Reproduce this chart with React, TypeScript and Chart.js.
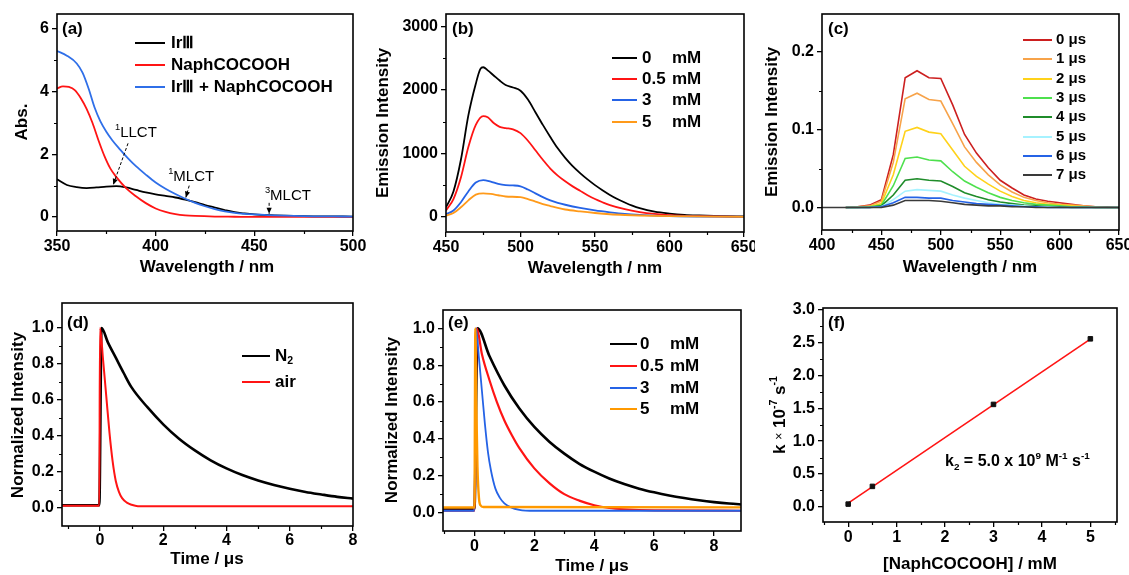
import React, { useEffect, useRef } from 'react';
import { Chart, registerables } from 'chart.js';
Chart.register(...registerables);

const FONT = 'Arial, "Liberation Sans", Helvetica, sans-serif';

// ---------------- (a) absorption ----------------
const aX_Ir = [350,355,360,365,370,375,380,385,390,395,400,405,410,415,420,425,430,435,440,445,450,460,470,480,490,500];
const aY_Ir = [1.2,1.02,0.95,0.92,0.94,0.97,0.98,0.94,0.86,0.78,0.72,0.67,0.62,0.55,0.47,0.38,0.3,0.22,0.15,0.11,0.08,0.05,0.03,0.02,0.015,0.01];
const aX_Naph = [350,353,356,359,362,365,368,371,374,377,380,385,390,395,400,405,410,415,420,430,440,450,475,500];
const aY_Naph = [4.1,4.17,4.15,4.05,3.8,3.45,3.0,2.45,1.95,1.55,1.28,0.92,0.66,0.44,0.27,0.16,0.09,0.05,0.03,0.01,0.005,0,0,0];
const aX_Mix = [350,355,360,363,366,369,372,375,378,382,386,390,395,400,405,410,415,420,425,430,435,440,445,450,455,460,470,480,490,500];
const aY_Mix = [5.3,5.15,4.9,4.6,4.1,3.5,3.05,2.72,2.45,2.15,1.87,1.62,1.35,1.1,0.9,0.73,0.58,0.45,0.34,0.25,0.18,0.13,0.1,0.08,0.065,0.05,0.03,0.02,0.015,0.01];
const aLabels = ['IrⅢ', 'NaphCOCOOH', 'IrⅢ + NaphCOCOOH'];
const aXTicks = [350, 400, 450, 500];
const aYTicks = [0, 2, 4, 6];
const aXMinor = [375, 425, 475];
const aYMinor = [1, 3, 5];

// ---------------- (b) emission quenching ----------------
const bX0 = [450,455,460,465,470,473,475,478,482,486,490,495,500,505,510,515,520,525,530,535,540,545,550,555,560,565,570,575,580,590,600,610,620,635,650];
const bY0 = [150,400,900,1600,2100,2330,2360,2310,2230,2150,2080,2040,1990,1850,1650,1450,1260,1080,930,800,690,590,500,420,345,280,225,175,135,80,50,30,20,10,5];
const bX05 = [450,455,460,465,470,475,478,482,486,490,495,500,505,510,515,520,525,530,535,540,545,550,555,560,570,580,590,600,620,650];
const bY05 = [100,280,620,1100,1450,1590,1570,1480,1420,1400,1380,1320,1200,1050,900,760,650,560,480,410,340,280,230,185,120,75,45,25,10,0];
const bX3 = [450,455,460,465,470,475,480,485,490,495,500,505,510,515,520,525,530,540,550,560,570,580,600,650];
const bY3 = [40,100,230,400,540,580,555,520,500,495,480,430,370,310,260,220,190,140,100,70,45,30,12,0];
const bX5 = [450,455,460,465,470,475,480,485,490,500,505,510,515,520,525,530,540,550,560,570,580,600,650];
const bY5 = [20,60,150,260,350,370,360,340,320,310,280,240,200,170,140,115,85,60,40,28,20,10,0];
const bConc = ['0', '0.5', '3', '5'];
const bXTicks = [450, 500, 550, 600, 650];
const bYTicks = [0, 1000, 2000, 3000];
const bXMinor = [475, 525, 575, 625];
const bYMinor = [500, 1500, 2500];

// ---------------- (c) time-resolved emission ----------------
const cX = [400,410,420,430,440,450,460,470,480,490,500,510,520,530,540,550,560,570,580,590,600,610,620,630,640,650];
const c0 = [null,null,0,0.001,0.003,0.01,0.068,0.167,0.176,0.167,0.166,0.132,0.094,0.07,0.051,0.035,0.025,0.016,0.011,0.008,0.006,0.004,0.002,0.001,0.001,0];
const c1 = [null,null,0,0.001,0.002,0.008,0.058,0.14,0.147,0.139,0.137,0.108,0.078,0.058,0.042,0.029,0.02,0.013,0.009,0.006,0.004,0.003,0.002,0.001,0,0];
const c2 = [null,null,0,0,0.001,0.005,0.042,0.098,0.103,0.097,0.095,0.074,0.053,0.04,0.03,0.021,0.014,0.009,0.006,0.004,0.003,0.002,0.001,0,0,0];
const c3 = [null,null,0,0,0.001,0.003,0.028,0.063,0.065,0.061,0.06,0.046,0.034,0.026,0.019,0.013,0.009,0.006,0.004,0.003,0.002,0.001,0.001,0,0,0];
const c4 = [null,null,0,0,0,0.002,0.016,0.035,0.037,0.035,0.034,0.027,0.019,0.014,0.01,0.007,0.005,0.003,0.002,0.001,0.001,0,0,0,0,0];
const c5 = [null,null,0,0,0,0.001,0.01,0.021,0.023,0.022,0.021,0.016,0.012,0.009,0.006,0.004,0.003,0.002,0.001,0.001,0,0,0,0,0,0];
const c6 = [null,null,0,0,0,0.001,0.006,0.013,0.013,0.012,0.012,0.009,0.007,0.005,0.004,0.003,0.002,0.001,0.001,0,0,0,0,0,0,0];
const c7 = [0,0,0,0,0,0,0.003,0.009,0.009,0.009,0.008,0.006,0.004,0.003,0.002,0.002,0.001,0.001,0,0,0,0,0,0,0,0];
const cLabels = ['0 μs', '1 μs', '2 μs', '3 μs', '4 μs', '5 μs', '6 μs', '7 μs'];
const cColors = ['#cc1f1f', '#f7a34a', '#ffd21a', '#4ee04e', '#1f8c2a', '#a6f2ff', '#2563e6', '#3a3a3a'];
const cXTicks = [400, 450, 500, 550, 600, 650];
const cYTicks = [0, 0.1, 0.2];
const cXMinor = [425, 475, 525, 575, 625];
const cYMinor = [0.05, 0.15];

// ---------------- (d) decay N2 / air ----------------
const dX_N2 = [-1.2,-0.5,-0.02,0.05,0.25,0.5,0.75,1,1.5,2,2.5,3,3.5,4,4.5,5,5.5,6,6.5,7,7.5,8];
const dY_N2 = [0.015,0.015,0.015,1.0,0.92,0.835,0.75,0.67,0.56,0.465,0.385,0.32,0.265,0.22,0.183,0.153,0.128,0.107,0.089,0.075,0.062,0.052];
const dX_air = [-1.2,-0.02,0.0,0.1,0.2,0.3,0.4,0.5,0.6,0.7,0.85,1.0,1.2,8];
const dY_air = [0.012,0.012,1.0,0.82,0.62,0.42,0.26,0.15,0.09,0.055,0.03,0.018,0.01,0.01];
const dXTicks = [0, 2, 4, 6, 8];
const dYTicks = [0, 0.2, 0.4, 0.6, 0.8, 1.0];
const dXMinor = [-1, 1, 3, 5, 7];
const dYMinor = [0.1, 0.3, 0.5, 0.7, 0.9];

// ---------------- (e) decay vs quencher ----------------
const eX0 = [-1.1,0.0,0.1,0.5,1,1.5,2,2.5,3,3.5,4,4.5,5,5.5,6,6.5,7,7.5,8,8.5,9];
const eY0 = [0.02,0.02,1.0,0.85,0.69,0.565,0.465,0.385,0.32,0.265,0.222,0.185,0.155,0.13,0.11,0.093,0.079,0.067,0.057,0.049,0.043];
const eX05 = [-1.1,0.0,0.08,0.25,0.5,0.75,1,1.25,1.5,2,2.5,3,3.5,4,4.5,5,6,9];
const eY05 = [0.01,0.01,1.0,0.86,0.72,0.6,0.5,0.42,0.35,0.24,0.16,0.1,0.065,0.04,0.025,0.018,0.012,0.01];
const eX3 = [-1.1,0.0,0.05,0.15,0.25,0.35,0.45,0.55,0.7,0.85,1.0,1.2,1.5,2,9];
const eY3 = [0.01,0.01,1.0,0.84,0.66,0.48,0.33,0.23,0.13,0.08,0.05,0.03,0.015,0.01,0.01];
const eX5 = [-1.1,0.0,0.03,0.06,0.1,0.15,0.2,0.3,9];
const eY5 = [0.028,0.028,1.0,0.6,0.25,0.08,0.04,0.03,0.028];
const eConc = ['0', '0.5', '3', '5'];
const eXTicks = [0, 2, 4, 6, 8];
const eYTicks = [0, 0.2, 0.4, 0.6, 0.8, 1.0];
const eXMinor = [-1, 1, 3, 5, 7, 9];
const eYMinor = [0.1, 0.3, 0.5, 0.7, 0.9];

// ---------------- (f) Stern-Volmer ----------------
const fConc = [0, 0.5, 3, 5];
const fRate = [0.04, 0.31, 1.56, 2.56];
const fFitX = [0, 5];
const fFitY = [0.055, 2.555];
const fXTicks = [0, 1, 2, 3, 4, 5];
const fYTicks = [0, 0.5, 1.0, 1.5, 2.0, 2.5, 3.0];
const fXMinor = [-0.5, 0.5, 1.5, 2.5, 3.5, 4.5, 5.5];
const fYMinor = [0.25, 0.75, 1.25, 1.75, 2.25, 2.75];

// ---------------- helpers ----------------
type Seg = { t: string; sup?: boolean; sub?: boolean; small?: boolean; normal?: boolean };
type TextItem = { segs: Seg[]; x: number; y: number; size: number; align?: 'left' | 'center'; rotate?: boolean; data?: boolean; normal?: boolean };
type Arrow = { x1: number; y1: number; x2: number; y2: number };
type LegendSpec = { x1: number; x2: number; textX: number; unitX?: number; unit?: string; rows: number[]; size: number; lw: number; items: { color: string; segs: Seg[] }[] };
type Deco = { xMinor: number[]; yMinor: number[]; texts: TextItem[]; arrows?: Arrow[]; legend?: LegendSpec };
type AxisSpec = { min: number; max: number; ticks: number[]; dec: number; pad: number };
type PanelSpec = {
  left: number; top: number; width: number; height: number;
  plot: { left: number; top: number; right: number; bottom: number };
  x: AxisSpec; y: AxisSpec; datasets: any[]; deco: Deco;
};

const T = (t: string): Seg[] => [{ t }];
const pts = (xs: number[], ys: (number | null)[]) => xs.map((x, i) => ({ x, y: ys[i] }));

function segStyle(s: Seg, size: number, baseNormal?: boolean) {
  const sz = s.sup || s.sub ? size * 0.62 : s.small ? size * 0.72 : size;
  const w = s.normal || baseNormal ? 'normal' : 'bold';
  return { font: `${w} ${sz}px ${FONT}`, dy: s.sup ? -size * 0.34 : s.sub ? size * 0.3 : 0 };
}

function drawRich(ctx: CanvasRenderingContext2D, segs: Seg[], x: number, y: number, size: number, align: 'left' | 'center', rotate?: boolean, baseNormal?: boolean) {
  ctx.save();
  ctx.translate(x, y);
  if (rotate) ctx.rotate(-Math.PI / 2);
  const widths: number[] = [];
  let total = 0;
  for (const s of segs) {
    ctx.font = segStyle(s, size, baseNormal).font;
    const w = ctx.measureText(s.t).width;
    widths.push(w);
    total += w;
  }
  let cx = align === 'left' ? 0 : -total / 2;
  ctx.textBaseline = 'middle';
  ctx.textAlign = 'left';
  ctx.fillStyle = '#000';
  segs.forEach((s, i) => {
    const st = segStyle(s, size, baseNormal);
    ctx.font = st.font;
    ctx.fillText(s.t, cx, st.dy);
    cx += widths[i];
  });
  ctx.restore();
}

function makeDeco(deco: Deco) {
  return {
    id: 'deco',
    afterDraw(chart: any) {
      const { ctx, chartArea: ca, scales } = chart;
      const xs = scales.x, ys = scales.y;
      ctx.save();
      ctx.strokeStyle = '#000';
      ctx.fillStyle = '#000';
      ctx.lineWidth = 1.2;
      ctx.beginPath();
      for (const v of deco.xMinor) {
        const px = Math.round(xs.getPixelForValue(v)) + 0.5;
        if (px < ca.left - 1 || px > ca.right + 1) continue;
        ctx.moveTo(px, ca.bottom);
        ctx.lineTo(px, ca.bottom + 3);
      }
      for (const v of deco.yMinor) {
        const py = Math.round(ys.getPixelForValue(v)) + 0.5;
        if (py < ca.top - 1 || py > ca.bottom + 1) continue;
        ctx.moveTo(ca.left, py);
        ctx.lineTo(ca.left - 3, py);
      }
      ctx.stroke();
      ctx.lineWidth = 1.6;
      ctx.strokeRect(ca.left, ca.top, ca.right - ca.left, ca.bottom - ca.top);

      // arrows (data coordinates)
      for (const a of deco.arrows || []) {
        const x1 = xs.getPixelForValue(a.x1), y1 = ys.getPixelForValue(a.y1);
        const x2 = xs.getPixelForValue(a.x2), y2 = ys.getPixelForValue(a.y2);
        ctx.lineWidth = 1;
        ctx.setLineDash([3, 2]);
        ctx.beginPath();
        ctx.moveTo(x1, y1);
        ctx.lineTo(x2, y2);
        ctx.stroke();
        ctx.setLineDash([]);
        const ang = Math.atan2(y2 - y1, x2 - x1);
        const L = 6, W = 2.6;
        ctx.beginPath();
        ctx.moveTo(x2, y2);
        ctx.lineTo(x2 - L * Math.cos(ang) + W * Math.sin(ang), y2 - L * Math.sin(ang) - W * Math.cos(ang));
        ctx.lineTo(x2 - L * Math.cos(ang) - W * Math.sin(ang), y2 - L * Math.sin(ang) + W * Math.cos(ang));
        ctx.closePath();
        ctx.fill();
      }

      // legend
      const lg = deco.legend;
      if (lg) {
        lg.items.forEach((it, i) => {
          const y = lg.rows[i];
          ctx.strokeStyle = it.color;
          ctx.lineWidth = lg.lw;
          ctx.beginPath();
          ctx.moveTo(lg.x1, y);
          ctx.lineTo(lg.x2, y);
          ctx.stroke();
          drawRich(ctx, it.segs, lg.textX, y, lg.size, 'left');
          if (lg.unit && lg.unitX !== undefined) drawRich(ctx, T(lg.unit), lg.unitX, y, lg.size, 'left');
        });
      }

      // texts
      for (const t of deco.texts) {
        const x = t.data ? xs.getPixelForValue(t.x) : t.x;
        const y = t.data ? ys.getPixelForValue(t.y) : t.y;
        drawRich(ctx, t.segs, x, y, t.size, t.align || 'center', t.rotate, t.normal);
      }
      ctx.restore();
    },
  };
}

function scaleOpts(axis: 'x' | 'y', p: PanelSpec) {
  const a = p[axis];
  return {
    type: 'linear',
    position: axis === 'x' ? 'bottom' : 'left',
    min: a.min,
    max: a.max,
    afterBuildTicks: (s: any) => {
      s.ticks = a.ticks.map((v) => ({ value: v }));
    },
    afterFit: (s: any) => {
      if (axis === 'x') s.height = p.height - p.plot.bottom;
      else s.width = p.plot.left;
      s.paddingLeft = 0;
      s.paddingRight = 0;
      s.paddingTop = 0;
      s.paddingBottom = 0;
    },
    ticks: {
      autoSkip: false,
      maxRotation: 0,
      minRotation: 0,
      padding: a.pad,
      color: '#000',
      font: { family: FONT, size: 16, weight: 'bold' },
      callback: (v: any) => Number(v).toFixed(a.dec),
    },
    grid: { display: true, drawOnChartArea: false, drawTicks: true, tickLength: 5, color: '#000', lineWidth: 1.3 },
    border: { display: false },
    title: { display: false },
  };
}

function buildConfig(p: PanelSpec) {
  const n = p.datasets.length;
  return {
    type: 'line',
    data: { datasets: p.datasets.map((d, i) => ({ order: n - i, pointRadius: 0, fill: false, ...d })) },
    options: {
      responsive: false,
      maintainAspectRatio: false,
      animation: false,
      events: [],
      layout: { padding: { left: 0, top: p.plot.top, right: p.width - p.plot.right, bottom: 0 } },
      plugins: { legend: { display: false }, tooltip: { enabled: false }, title: { display: false } },
      scales: { x: scaleOpts('x', p), y: scaleOpts('y', p) },
    },
    plugins: [makeDeco(p.deco)],
  };
}

const line = (data: any[], color: string, width: number, smooth = true) => ({
  data,
  borderColor: color,
  backgroundColor: color,
  borderWidth: width,
  cubicInterpolationMode: smooth ? 'monotone' : 'default',
  tension: 0,
});

// ---------------- panel specs ----------------
const specA: PanelSpec = {
  left: 0, top: 0, width: 370, height: 285,
  plot: { left: 57, top: 14, right: 353, bottom: 231 },
  x: { min: 350, max: 500, ticks: aXTicks, dec: 0, pad: 1 },
  y: { min: -0.45, max: 6.48, ticks: aYTicks, dec: 0, pad: 3 },
  datasets: [
    line(pts(aX_Ir, aY_Ir), '#000000', 1.8),
    line(pts(aX_Naph, aY_Naph), '#ff1414', 1.8),
    line(pts(aX_Mix, aY_Mix), '#2f6fe8', 1.8),
  ],
  deco: {
    xMinor: aXMinor, yMinor: aYMinor,
    arrows: [
      { x1: 386, y1: 2.35, x2: 378.5, y2: 1.03 },
      { x1: 417, y1: 1.0, x2: 415.3, y2: 0.62 },
      { x1: 457.5, y1: 0.45, x2: 457.5, y2: 0.1 },
    ],
    legend: {
      x1: 135, x2: 165, textX: 171, rows: [43, 65, 87], size: 17, lw: 2,
      items: [
        { color: '#000000', segs: T(aLabels[0]) },
        { color: '#ff1414', segs: T(aLabels[1]) },
        { color: '#2f6fe8', segs: T(aLabels[2]) },
      ],
    },
    texts: [
      { segs: T('(a)'), x: 62, y: 29, size: 17, align: 'left' },
      { segs: T('Wavelength / nm'), x: 207, y: 267, size: 17 },
      { segs: T('Abs.'), x: 22, y: 122, size: 17, rotate: true },
      { segs: [{ t: '1', sup: true }, { t: 'LLCT' }], x: 390, y: 2.7, size: 15, data: true, normal: true },
      { segs: [{ t: '1', sup: true }, { t: 'MLCT' }], x: 418, y: 1.28, size: 15, data: true, normal: true },
      { segs: [{ t: '3', sup: true }, { t: 'MLCT' }], x: 467, y: 0.68, size: 15, data: true, normal: true },
    ],
  },
};

const bColors = ['#000000', '#ff1414', '#2563e6', '#ff9a1a'];
const specB: PanelSpec = {
  left: 370, top: 0, width: 385, height: 285,
  plot: { left: 76, top: 14, right: 374, bottom: 232 },
  x: { min: 450, max: 650, ticks: bXTicks, dec: 0, pad: 1 },
  y: { min: -240, max: 3200, ticks: bYTicks, dec: 0, pad: 3 },
  datasets: [
    line(pts(bX0, bY0), bColors[0], 1.8),
    line(pts(bX05, bY05), bColors[1], 1.8),
    line(pts(bX3, bY3), bColors[2], 1.8),
    line(pts(bX5, bY5), bColors[3], 1.8),
  ],
  deco: {
    xMinor: bXMinor, yMinor: bYMinor,
    legend: {
      x1: 242, x2: 267, textX: 272, unitX: 302, unit: 'mM', rows: [58, 79, 100, 122], size: 17, lw: 2,
      items: bConc.map((c, i) => ({ color: bColors[i], segs: T(c) })),
    },
    texts: [
      { segs: T('(b)'), x: 82, y: 29, size: 17, align: 'left' },
      { segs: T('Wavelength / nm'), x: 225, y: 268, size: 17 },
      { segs: T('Emission Intensity'), x: 13, y: 123, size: 17, rotate: true },
    ],
  },
};

const cSeries = [c0, c1, c2, c3, c4, c5, c6, c7];
const specC: PanelSpec = {
  left: 755, top: 0, width: 374, height: 285,
  plot: { left: 67, top: 14, right: 364, bottom: 230 },
  x: { min: 400, max: 650, ticks: cXTicks, dec: 0, pad: 1 },
  y: { min: -0.029, max: 0.249, ticks: cYTicks, dec: 1, pad: 3 },
  datasets: cSeries.map((s, i) => line(pts(cX, s), cColors[i], 1.6, false)),
  deco: {
    xMinor: cXMinor, yMinor: cYMinor,
    legend: {
      x1: 268, x2: 297, textX: 301, rows: [40, 59, 79, 98, 117, 137, 156, 175], size: 15, lw: 2,
      items: cLabels.map((l, i) => ({ color: cColors[i], segs: T(l) })),
    },
    texts: [
      { segs: T('(c)'), x: 73, y: 29, size: 17, align: 'left' },
      { segs: T('Wavelength / nm'), x: 215, y: 267, size: 17 },
      { segs: T('Emission Intensity'), x: 17, y: 122, size: 17, rotate: true },
    ],
  },
};

const specD: PanelSpec = {
  left: 0, top: 285, width: 370, height: 290,
  plot: { left: 62, top: 18, right: 353, bottom: 241 },
  x: { min: -1.2, max: 8, ticks: dXTicks, dec: 0, pad: 0 },
  y: { min: -0.1, max: 1.139, ticks: dYTicks, dec: 1, pad: 3 },
  datasets: [
    line(pts(dX_N2, dY_N2), '#000000', 2.6),
    line(pts(dX_air, dY_air), '#ff1414', 2),
  ],
  deco: {
    xMinor: dXMinor, yMinor: dYMinor,
    legend: {
      x1: 242, x2: 270, textX: 275, rows: [71, 97], size: 17, lw: 2,
      items: [
        { color: '#000000', segs: [{ t: 'N' }, { t: '2', sub: true }] },
        { color: '#ff1414', segs: T('air') },
      ],
    },
    texts: [
      { segs: T('(d)'), x: 67, y: 38, size: 17, align: 'left' },
      { segs: T('Time / μs'), x: 207, y: 274, size: 17 },
      { segs: T('Normalized Intensity'), x: 18, y: 130, size: 17, rotate: true },
    ],
  },
};

const eColors = ['#000000', '#ff1414', '#2563e6', '#ff9900'];
const specE: PanelSpec = {
  left: 370, top: 285, width: 385, height: 290,
  plot: { left: 73, top: 25, right: 371, bottom: 246 },
  x: { min: -1.05, max: 8.9, ticks: eXTicks, dec: 0, pad: 1 },
  y: { min: -0.1, max: 1.1, ticks: eYTicks, dec: 1, pad: 3 },
  datasets: [
    line(pts(eX0, eY0), eColors[0], 2.6),
    line(pts(eX05, eY05), eColors[1], 2.2),
    line(pts(eX3, eY3), eColors[2], 1.8),
    line(pts(eX5, eY5), eColors[3], 2.4),
  ],
  deco: {
    xMinor: eXMinor, yMinor: eYMinor,
    legend: {
      x1: 240, x2: 267, textX: 270, unitX: 300, unit: 'mM', rows: [59, 81, 103, 124], size: 17, lw: 2,
      items: eConc.map((c, i) => ({ color: eColors[i], segs: T(c) })),
    },
    texts: [
      { segs: T('(e)'), x: 78, y: 38, size: 17, align: 'left' },
      { segs: T('Time / μs'), x: 222, y: 281, size: 17 },
      { segs: T('Normalized Intensity'), x: 22, y: 135, size: 17, rotate: true },
    ],
  },
};

const specF: PanelSpec = {
  left: 755, top: 285, width: 374, height: 290,
  plot: { left: 68, top: 23, right: 362, bottom: 237 },
  x: { min: -0.52, max: 5.55, ticks: fXTicks, dec: 0, pad: 1 },
  y: { min: -0.233, max: 3.03, ticks: fYTicks, dec: 1, pad: 3 },
  datasets: [
    line(pts(fFitX, fFitY), '#ff1414', 1.6, false),
    {
      data: pts(fConc, fRate), showLine: false, pointStyle: 'rect', pointRadius: 3.2,
      pointBackgroundColor: '#111', pointBorderColor: '#111', borderColor: '#111', backgroundColor: '#111',
    },
  ],
  deco: {
    xMinor: fXMinor, yMinor: fYMinor,
    texts: [
      { segs: T('(f)'), x: 73, y: 38, size: 17, align: 'left' },
      { segs: T('[NaphCOCOOH] / mM'), x: 215, y: 279, size: 17 },
      {
        segs: [{ t: 'k ' }, { t: '×', small: true, normal: true }, { t: ' 10' }, { t: '-7', sup: true }, { t: ' s' }, { t: '-1', sup: true }],
        x: 25, y: 130, size: 17, rotate: true,
      },
      {
        segs: [{ t: 'k' }, { t: '2', sub: true }, { t: ' = 5.0 x 10' }, { t: '9', sup: true }, { t: ' M' }, { t: '-1', sup: true }, { t: ' s' }, { t: '-1', sup: true }],
        x: 190, y: 177, size: 16, align: 'left',
      },
    ],
  },
};

const SPECS = [specA, specB, specC, specD, specE, specF];

function Panel({ spec }: { spec: PanelSpec }) {
  const ref = useRef<HTMLCanvasElement>(null);
  useEffect(() => {
    if (!ref.current) return;
    const chart = new Chart(ref.current, buildConfig(spec) as any);
    return () => chart.destroy();
  }, [spec]);
  return (
    <canvas
      ref={ref}
      width={spec.width}
      height={spec.height}
      style={{ position: 'absolute', left: spec.left, top: spec.top, width: spec.width, height: spec.height }}
    />
  );
}

export default function App() {
  return (
    <div style={{ position: 'absolute', left: 0, top: 0, width: 1129, height: 575, background: '#ffffff', overflow: 'hidden' }}>
      {SPECS.map((s, i) => (
        <Panel key={i} spec={s} />
      ))}
    </div>
  );
}
